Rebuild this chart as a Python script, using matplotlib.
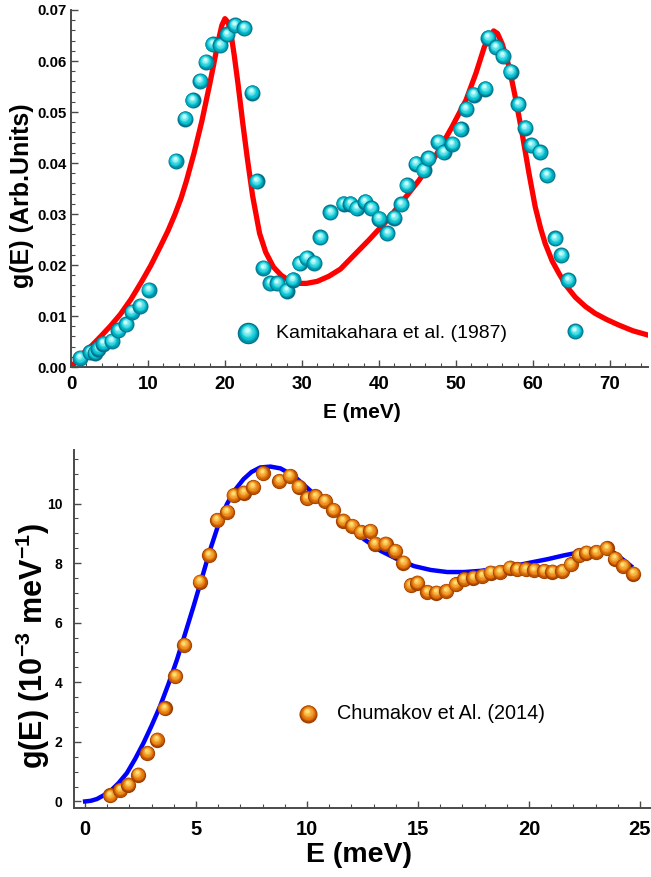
import numpy as np
import matplotlib.pyplot as plt
import matplotlib.transforms as mtransforms
from matplotlib.colors import to_rgb

plt.rcParams['font.family'] = ['Liberation Sans', 'DejaVu Sans']
plt.rcParams['mathtext.fontset'] = 'custom'
plt.rcParams['mathtext.rm'] = 'Liberation Sans:bold'
plt.rcParams['mathtext.bf'] = 'Liberation Sans:bold'

# ---- top panel: Kamitakahara et al. (1987) ----
kam_E = [1.2, 2.5, 3.1, 3.55, 4.2, 5.3, 6.15, 7.2, 7.9, 9.0, 10.1,
         13.6, 14.8, 15.8, 16.75, 17.5, 18.4, 19.4, 20.3, 21.3, 22.5,
         23.5, 24.1, 25.0, 25.9, 26.8, 28.0, 28.8, 29.7, 30.6, 31.6,
         32.4, 33.7, 35.4, 36.3, 37.1, 38.2, 39.0, 40.0, 41.1, 42.0,
         42.9, 43.6, 44.8, 45.8, 46.4, 47.7, 48.4, 49.5, 50.6, 51.3,
         52.3, 53.8, 54.2, 55.2, 56.1, 57.1, 58.1, 59.0, 59.8, 60.9,
         61.8, 62.9, 63.7, 64.6, 65.5]
kam_g = [0.0018, 0.0029, 0.0028, 0.0036, 0.0046, 0.0051, 0.0072, 0.0084, 0.0108, 0.0120, 0.0151,
         0.0404, 0.0487, 0.0523, 0.0561, 0.0598, 0.0633, 0.0631, 0.0652, 0.0670, 0.0664,
         0.0538, 0.0364, 0.0194, 0.0164, 0.0164, 0.0150, 0.0171, 0.0203, 0.0214, 0.0204,
         0.0254, 0.0303, 0.0320, 0.0320, 0.0311, 0.0324, 0.0311, 0.0291, 0.0262, 0.0293,
         0.0319, 0.0356, 0.0399, 0.0386, 0.0409, 0.0441, 0.0421, 0.0437, 0.0466, 0.0506,
         0.0534, 0.0546, 0.0646, 0.0627, 0.0610, 0.0579, 0.0515, 0.0469, 0.0435, 0.0421,
         0.0376, 0.0252, 0.0219, 0.0170, 0.0070]

fit1_E = [0, 0.8, 1.6, 2.7, 3.8, 5.1, 6.4, 7.8, 9.2, 10.4, 11.6, 12.6, 13.5, 14.3, 15.0,
          16.0, 17.0, 18.0, 18.6, 19.1, 19.6, 20.0, 20.4, 20.8, 21.2, 21.7, 22.3,
          22.9, 23.6, 24.5, 25.3, 26.3, 27.3, 28.4, 29.5, 30.6, 32.0, 33.5,
          35.0, 36.1, 38.7, 40.9, 43.0, 45.2, 47.4, 49.5, 51.3, 52.6, 53.7,
          54.3, 54.9, 55.4, 56.0, 56.9, 57.7, 58.6, 59.5, 60.3, 61.0, 61.6,
          62.5, 63.4, 64.4, 65.5, 66.8, 68.1, 69.6, 71.2, 73.0, 75.1]
fit1_g = [0, 0.0012, 0.0027, 0.0042, 0.0059, 0.0080, 0.0103, 0.0133, 0.0168, 0.0200, 0.0236, 0.0267, 0.0299, 0.0331, 0.0365,
          0.0420, 0.0482, 0.0553, 0.0598, 0.0637, 0.0670, 0.0683, 0.0676, 0.0652, 0.0612, 0.0555, 0.0480,
          0.0410, 0.0335, 0.0262, 0.0225, 0.0196, 0.0180, 0.0169, 0.0164, 0.0164, 0.0168, 0.0178,
          0.0192, 0.0209, 0.0249, 0.0285, 0.0324, 0.0366, 0.0415, 0.0471, 0.0523, 0.0576, 0.0628,
          0.0647, 0.0659, 0.0654, 0.0634, 0.0589, 0.0530, 0.0458, 0.0379, 0.0314, 0.0272, 0.0242,
          0.0208, 0.0183, 0.0158, 0.0137, 0.0119, 0.0105, 0.0093, 0.0082, 0.0071, 0.0062]

# ---- bottom panel: Chumakov et Al. (2014) ----
chu_E = [1.13, 1.58, 1.95, 2.38, 2.81, 3.23, 3.58, 4.06, 4.47, 5.16, 5.59, 5.94,
         6.39, 6.69, 7.14, 7.56, 8.0, 8.75, 9.22, 9.62, 10.0, 10.38, 10.8, 11.17,
         11.62, 12.03, 12.42, 12.84, 13.06, 13.54, 13.96, 14.34, 14.67, 14.97,
         15.42, 15.83, 16.28, 16.7, 17.07, 17.49, 17.9, 18.27, 18.68, 19.13,
         19.47, 19.85, 20.23, 20.68, 21.05, 21.5, 21.88, 22.25, 22.58, 23.03,
         23.5, 23.87, 24.25, 24.7]
chu_g = [0.20, 0.39, 0.56, 0.90, 1.63, 2.07, 3.12, 4.20, 5.25, 7.38, 8.27, 9.45,
         9.72, 10.28, 10.37, 10.56, 11.02, 10.76, 10.93, 10.57, 10.18, 10.24, 10.09, 9.78,
         9.42, 9.25, 9.05, 9.08, 8.65, 8.65, 8.41, 8.02, 7.26, 7.34,
         7.03, 7.01, 7.06, 7.29, 7.46, 7.51, 7.57, 7.68, 7.70, 7.85,
         7.79, 7.79, 7.77, 7.74, 7.71, 7.74, 7.96, 8.26, 8.35, 8.37,
         8.50, 8.15, 7.90, 7.65]

fit2_E = [0, 0.25, 0.53, 0.8, 1.13, 1.5, 1.88, 2.25, 2.63, 3.0, 3.38, 3.76, 4.14,
          4.51, 4.89, 5.27, 5.64, 6.0, 6.39, 6.75, 7.14, 7.5, 7.89, 8.35, 8.8,
          9.4, 10.15, 10.9, 11.65, 12.57, 13.32, 14.07, 14.82, 15.57, 16.32,
          17.07, 17.82, 18.57, 19.32, 20.08, 20.83, 21.58, 22.33, 23.08,
          23.83, 24.3, 24.6]
fit2_g = [0, 0.02, 0.08, 0.19, 0.34, 0.61, 0.95, 1.42, 1.96, 2.55, 3.2, 3.95, 4.76,
          5.64, 6.56, 7.52, 8.46, 9.28, 9.98, 10.45, 10.82, 11.06, 11.21, 11.24, 11.18,
          10.93, 10.43, 9.92, 9.42, 8.80, 8.41, 8.13, 7.90, 7.77, 7.70,
          7.70, 7.74, 7.81, 7.90, 8.02, 8.13, 8.26, 8.37, 8.46,
          8.35, 8.08, 7.90]


def mix(c1, c2, t):
    a, b = np.array(to_rgb(c1)), np.array(to_rgb(c2))
    return tuple(a + (b - a) * t)


def draw_ball(ax, fig, x, y, diam, dark, mid, light, trans=None, z=5):
    # fake a shaded sphere with stacked, shifted discs
    base = ax.transData if trans is None else trans
    n = 9
    for i in range(n):
        t = i / (n - 1)
        d = diam * (1 - 0.8 * t)
        off = 0.16 * diam * t
        if t < 0.35:
            col = mix(dark, mid, t / 0.35)
        else:
            col = mix(mid, light, (t - 0.35) / 0.65)
        tr = mtransforms.offset_copy(base, fig=fig, x=-off * 0.4, y=off, units='points')
        ax.scatter([x], [y], s=d ** 2, color=col, transform=tr, zorder=z,
                   linewidths=0, clip_on=False)


def style_axis(ax, xfs, yfs, xpad, ypad):
    for s in ['top', 'right']:
        ax.spines[s].set_visible(False)
    for s in ['left', 'bottom']:
        ax.spines[s].set_color('#4a4a4a')
        ax.spines[s].set_linewidth(1.4)
    ax.tick_params(which='both', direction='in', color='#4a4a4a')
    ax.tick_params(axis='x', labelsize=xfs, pad=xpad)
    ax.tick_params(axis='y', labelsize=yfs, pad=ypad)
    ax.tick_params(which='major', length=5, width=1)
    ax.tick_params(which='minor', length=3, width=0.8)
    for lab in ax.get_xticklabels() + ax.get_yticklabels():
        lab.set_fontweight('bold')


W, H = 651, 877
fig = plt.figure(figsize=(W / 100, H / 100), dpi=100)

# top panel
ax1 = fig.add_axes([0.109, 0.5815, 0.887, 0.4071])
ax1.plot(fit1_E, fit1_g, color='#ff0000', lw=3.8, zorder=2, solid_joinstyle='round')
for e, g in zip(kam_E, kam_g):
    draw_ball(ax1, fig, e, g, 11.5, '#00708a', '#00c4d2', '#c8ffff')
ax1.set_xlim(0, 75)
ax1.set_ylim(0, 0.07)
ax1.set_xticks([0, 10, 20, 30, 40, 50, 60, 70])
ax1.set_xticks(np.arange(0, 76, 2), minor=True)
ax1.set_yticks([0, 0.01, 0.02, 0.03, 0.04, 0.05, 0.06, 0.07])
ax1.set_yticklabels(['0.00', '0.01', '0.02', '0.03', '0.04', '0.05', '0.06', '0.07'])
ax1.set_yticks(np.arange(0, 0.0701, 0.002), minor=True)
style_axis(ax1, 13.5, 10.8, 6.5, 3)
fig.text(362 / W, 1 - 412 / H, 'E (meV)', fontsize=15, fontweight='bold',
         ha='center', va='center')
fig.text(22 / W, 1 - 196 / H, 'g(E) (Arb.Units)', fontsize=18, fontweight='bold',
         ha='center', va='center', rotation=90)
draw_ball(ax1, fig, 0.307, 0.095, 15.5, '#00708a', '#00c4d2', '#c8ffff', trans=ax1.transAxes)
ax1.text(0.355, 0.095, 'Kamitakahara et al. (1987)', transform=ax1.transAxes,
         fontsize=14, va='center', ha='left')

# bottom panel
ax2 = fig.add_axes([0.1137, 0.0787, 0.8863, 0.4083])
ax2.plot(fit2_E, fit2_g, color='#0000ff', lw=3.2, zorder=2, solid_joinstyle='round')
for e, g in zip(chu_E, chu_g):
    draw_ball(ax2, fig, e, g, 11.0, '#a04000', '#e8780a', '#ffe070')
ax2.set_xlim(-0.5, 25.5)
ax2.set_ylim(-0.22, 11.8)
ax2.set_xticks([0, 5, 10, 15, 20, 25])
ax2.set_xticks(np.arange(0, 26, 1), minor=True)
ax2.set_yticks([0, 2, 4, 6, 8, 10])
ax2.set_yticks(np.arange(0, 11.8, 0.5), minor=True)
style_axis(ax2, 14.5, 10, 8.5, 8.5)
fig.text(359 / W, 1 - 855 / H, 'E (meV)', fontsize=20.5, fontweight='bold',
         ha='center', va='center')
fig.text(33 / W, 1 - 646 / H, r'g(E) (10$^{-3}$ meV$^{-1}$)', fontsize=22,
         fontweight='bold', ha='center', va='center', rotation=90)
draw_ball(ax2, fig, 0.406, 0.263, 13.0, '#a04000', '#e8780a', '#ffe070', trans=ax2.transAxes)
ax2.text(0.456, 0.263, 'Chumakov et Al. (2014)', transform=ax2.transAxes,
         fontsize=14.3, va='center', ha='left')

fig.savefig('out.png', dpi=100)
